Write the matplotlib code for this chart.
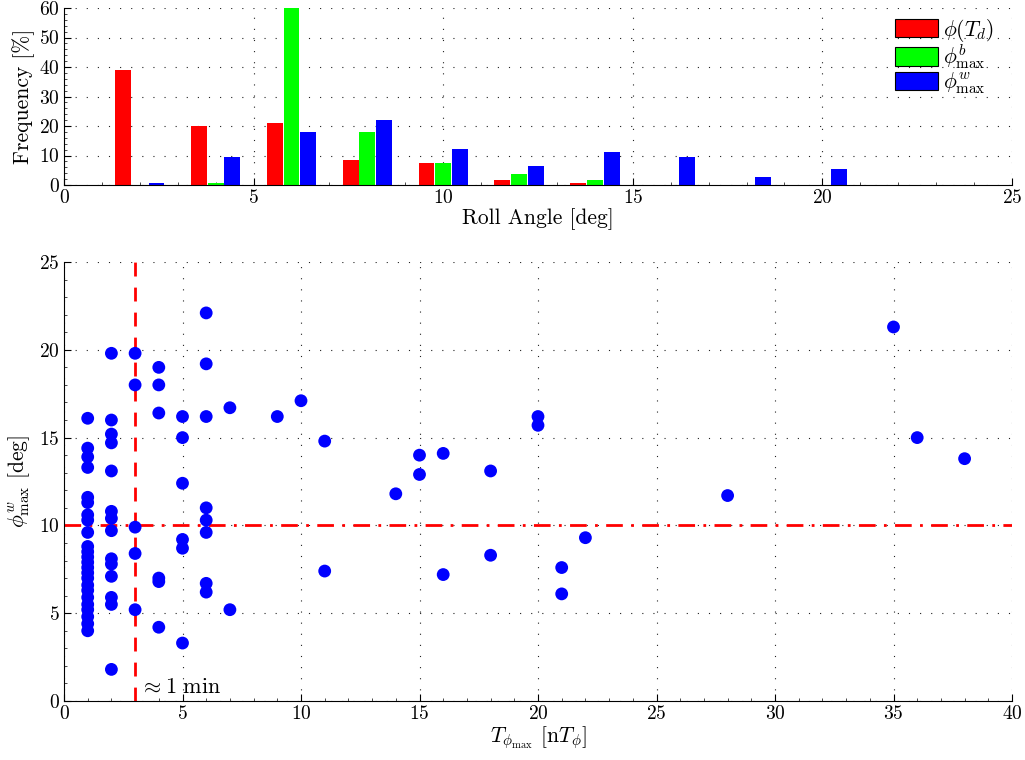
import matplotlib
matplotlib.use("Agg")
import matplotlib.pyplot as plt
from matplotlib.ticker import AutoMinorLocator, MultipleLocator
from matplotlib.patches import Patch

plt.rcParams['font.family'] = ['cmr10', 'DejaVu Serif']
plt.rcParams['mathtext.fontset'] = 'cm'
plt.rcParams['axes.formatter.use_mathtext'] = True

# ---------------- Histogram data ----------------
bin_centers = [2, 4, 6, 8, 10, 12, 14, 16, 18, 20]
freq_phi_Td = [39.1, 20.0, 20.9, 8.4, 7.5, 1.7, 0.8, 0, 0, 0]
freq_phi_b = [0, 0.7, 60.0, 18.0, 7.5, 3.6, 1.7, 0, 0, 0]
freq_phi_w = [0.8, 9.5, 18.1, 21.9, 12.2, 6.5, 11.3, 9.5, 2.7, 5.4]
hist_labels = [r'$\phi(T_d)$', r'$\phi^b_{\mathrm{max}}$', r'$\phi^w_{\mathrm{max}}$']
hist_colors = ['#ff0000', '#00ff00', '#0000ff']

# ---------------- Scatter data ----------------
T_phi_max = (
    [1] * 24 +
    [2] * 14 +
    [3] * 5 +
    [4] * 6 +
    [5] * 6 +
    [6] * 8 +
    [7] * 2 +
    [9, 10, 11, 11, 14, 15, 15, 16, 16, 18, 18, 20, 20, 21, 21, 22, 28, 35, 36, 38]
)
phi_w_max = (
    [16.1, 14.4, 13.9, 13.3, 11.6, 11.3, 10.6, 10.3, 9.6, 8.8, 8.5, 8.2, 7.9,
     7.6, 7.3, 7.0, 6.6, 6.3, 5.9, 5.5, 5.2, 4.8, 4.4, 4.0] +
    [19.8, 16.0, 15.2, 14.7, 13.1, 10.8, 10.4, 9.7, 8.1, 7.8, 7.1, 5.9, 5.5, 1.8] +
    [19.8, 18.0, 9.9, 8.4, 5.2] +
    [19.0, 18.0, 16.4, 7.0, 6.8, 4.2] +
    [16.2, 15.0, 12.4, 9.2, 8.7, 3.3] +
    [22.1, 19.2, 16.2, 11.0, 10.3, 9.6, 6.7, 6.2] +
    [16.7, 5.2] +
    [16.2, 17.1, 14.8, 7.4, 11.8, 14.0, 12.9, 14.1, 7.2, 13.1, 8.3, 16.2, 15.7,
     7.6, 6.1, 9.3, 11.7, 21.3, 15.0, 13.8]
)
vline_x = 3
hline_y = 10

W, H = 1025, 760
fig = plt.figure(figsize=(W / 100, H / 100), dpi=100)

def ax_rect(l, t, r, b):
    return [l / W, 1 - b / H, (r - l) / W, (b - t) / H]

def style(ax):
    ax.spines['top'].set_visible(False)
    ax.spines['right'].set_visible(False)
    ax.tick_params(which='both', direction='in', top=False, right=False,
                   labelsize=14, colors='black')
    ax.tick_params(which='major', length=5, width=0.8, pad=3)
    ax.tick_params(which='minor', length=2.5, width=0.5)
    ax.grid(True, which='major', linestyle=(0, (1, 9)), color='#222222',
            linewidth=0.8)
    ax.set_axisbelow(True)

# ---------------- Top axes: histogram ----------------
ax1 = fig.add_axes(ax_rect(64, 8, 1012, 185))
offsets = [-0.44, 0.0, 0.44]
for vals, off, col in zip([freq_phi_Td, freq_phi_b, freq_phi_w], offsets, hist_colors):
    ax1.bar([c + off for c in bin_centers], vals, width=0.42, color=col,
            edgecolor='none', zorder=2)
ax1.set_xlim(0, 25)
ax1.set_ylim(0, 60)
ax1.xaxis.set_major_locator(MultipleLocator(5))
ax1.yaxis.set_major_locator(MultipleLocator(10))
ax1.yaxis.set_minor_locator(AutoMinorLocator(5))
ax1.xaxis.set_minor_locator(AutoMinorLocator(5))
style(ax1)
ax1.set_xlabel('Roll Angle [deg]', fontsize=15.5, labelpad=1)
ax1.set_ylabel('Frequency [%]', fontsize=15.5, labelpad=3)
handles = [Patch(facecolor=c, edgecolor='black', linewidth=0.8) for c in hist_colors]
ax1.legend(handles, hist_labels, loc='upper right', frameon=False,
           fontsize=15.5, handlelength=2.0, handleheight=0.95, labelspacing=-0.05,
           borderaxespad=0.0, handletextpad=0.2, bbox_to_anchor=(0.99, 1.0))

# ---------------- Bottom axes: scatter ----------------
ax2 = fig.add_axes(ax_rect(64, 262, 1012, 701))
ax2.scatter(T_phi_max, phi_w_max, s=85, color='#0000ff', edgecolors='none',
            zorder=3)
ax2.axvline(vline_x, color='#ff0000', linestyle=(0, (5, 4)), linewidth=2.0,
            zorder=2)
ax2.axhline(hline_y, color='#ff0000', linestyle=(0, (6, 3, 1, 3)),
            linewidth=2.0, zorder=2)
ax2.text(vline_x + 0.2, 0.2, r'$\approx 1\ \mathrm{min}$', fontsize=16,
         ha='left', va='bottom')
ax2.set_xlim(0, 40)
ax2.set_ylim(0, 25)
ax2.xaxis.set_major_locator(MultipleLocator(5))
ax2.yaxis.set_major_locator(MultipleLocator(5))
ax2.xaxis.set_minor_locator(AutoMinorLocator(5))
ax2.yaxis.set_minor_locator(AutoMinorLocator(5))
style(ax2)
ax2.set_xlabel(r'$T_{\phi_{\mathrm{max}}}$ [n$T_\phi$]', fontsize=15.5, labelpad=1)
ax2.set_ylabel(r'$\phi^w_{\mathrm{max}}$ [deg]', fontsize=15.5, labelpad=5)

fig.savefig('out.png', dpi=100)
